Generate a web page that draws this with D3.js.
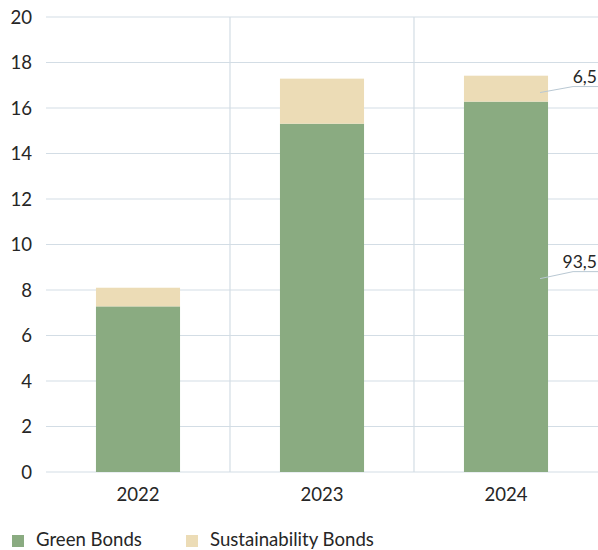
<!DOCTYPE html>
<html>
<head>
<meta charset="utf-8">
<script src="https://cdn.jsdelivr.net/npm/d3@7"></script>
<style>
  body { margin: 0; background: #fff; }
  text { font-family: Lato, "Open Sans", sans-serif; fill: #262626; }
</style>
</head>
<body>
<div id="chart"></div>
<script>
// data
const years = ['2022', '2023', '2024'];
const greenBonds = [7.28, 15.31, 16.28];
const sustainabilityBonds = [0.82, 1.98, 1.14];
const yTicks = [0, 2, 4, 6, 8, 10, 12, 14, 16, 18, 20];
const shareLabels = ['6,5', '93,5'];
const seriesNames = ['Green Bonds', 'Sustainability Bonds'];
const colors = ['#8aab81', '#ecdcb6'];

const width = 598;
const height = 550;
const margin = { top: 17, right: 0, bottom: 78, left: 46 };
const fontSize = '18.6px';

const svg = d3.select('#chart')
  .append('svg')
  .attr('width', width)
  .attr('height', height);

const x = d3.scaleBand()
  .domain(years)
  .range([margin.left, width - margin.right])
  .padding(0);

const y = d3.scaleLinear()
  .domain([0, 20])
  .range([height - margin.bottom, margin.top]);

const barW = x.bandwidth() * 0.457;

// horizontal grid
svg.append('g')
  .selectAll('line')
  .data(yTicks)
  .enter()
  .append('line')
  .attr('x1', margin.left)
  .attr('x2', width - margin.right)
  .attr('y1', d => y(d))
  .attr('y2', d => y(d))
  .attr('stroke', '#d3dde5')
  .attr('stroke-width', 1.2);

// vertical separators between categories
svg.append('g')
  .selectAll('line')
  .data(years.slice(1))
  .enter()
  .append('line')
  .attr('x1', d => x(d))
  .attr('x2', d => x(d))
  .attr('y1', y(20))
  .attr('y2', y(0))
  .attr('stroke', '#d3dde5')
  .attr('stroke-width', 1.2);

// y tick labels
svg.append('g')
  .selectAll('text')
  .data(yTicks)
  .enter()
  .append('text')
  .attr('x', 32)
  .attr('y', d => y(d))
  .attr('dy', '0.35em')
  .attr('text-anchor', 'end')
  .style('font-size', fontSize)
  .text(d => d);

// stacked bars
const stacked = years.map((yr, i) => ({ year: yr, green: greenBonds[i], sust: sustainabilityBonds[i] }));
const stack = d3.stack().keys(['green', 'sust'])(stacked);

svg.append('g')
  .selectAll('g')
  .data(stack)
  .enter()
  .append('g')
  .attr('fill', (d, i) => colors[i])
  .selectAll('rect')
  .data(d => d)
  .enter()
  .append('rect')
  .attr('x', d => x(d.data.year) + (x.bandwidth() - barW) / 2)
  .attr('width', barW)
  .attr('y', d => y(d[1]))
  .attr('height', d => y(d[0]) - y(d[1]));

// x labels
svg.append('g')
  .selectAll('text')
  .data(years)
  .enter()
  .append('text')
  .attr('x', d => x(d) + x.bandwidth() / 2)
  .attr('y', y(0) + 29)
  .attr('text-anchor', 'middle')
  .style('font-size', fontSize)
  .text(d => d);

// share callouts for 2024
const last = years.length - 1;
const lx = x(years[last]) + x.bandwidth() / 2 + barW / 2 - 8;
const callouts = [
  { label: shareLabels[0], v: greenBonds[last] + sustainabilityBonds[last] * 0.35, dy: -6 },
  { label: shareLabels[1], v: 8.5, dy: -7 }
];
const co = svg.append('g');
callouts.forEach(c => {
  const y0 = y(c.v);
  co.append('polyline')
    .attr('points', `${lx},${y0} ${lx + 33},${y0 + c.dy} ${width},${y0 + c.dy}`)
    .attr('fill', 'none')
    .attr('stroke', '#b9c8d3')
    .attr('stroke-width', 1);
  co.append('text')
    .attr('x', width - 1)
    .attr('y', y0 + c.dy - 4)
    .attr('text-anchor', 'end')
    .style('font-size', '17.5px')
    .text(c.label);
});

// legend
const legendX = [12, 186];
const legend = svg.append('g');
seriesNames.forEach((name, i) => {
  legend.append('rect')
    .attr('x', legendX[i])
    .attr('y', 535)
    .attr('width', 12)
    .attr('height', 12)
    .attr('fill', colors[i]);
  legend.append('text')
    .attr('x', legendX[i] + 24)
    .attr('y', 546)
    .style('font-size', fontSize)
    .text(name);
});
</script>
</body>
</html>
